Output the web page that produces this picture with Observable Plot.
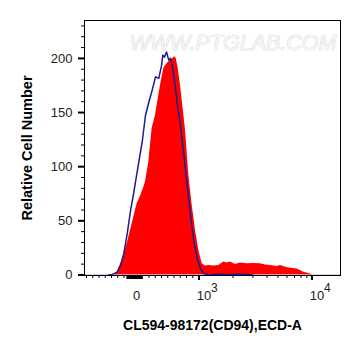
<!DOCTYPE html>
<html>
<head>
<meta charset="utf-8">
<script src="https://cdn.jsdelivr.net/npm/d3@7"></script>
<script src="https://cdn.jsdelivr.net/npm/@observablehq/plot@0.6"></script>
<style>
  html, body { margin: 0; padding: 0; background: #fff; }
  #chart { width: 361px; height: 356px; }
</style>
</head>
<body>
<div id="chart"></div>
<script>
// ---- data (fluorescence intensity in raw units, counts) ----
const redX = [-363, -309, -229, -149, -69, 11, 64, 112, 144, 197, 251, 304, 357, 384, 437, 491, 544, 581, 613, 635, 667, 704, 731, 784, 837, 891, 944, 997, 1067, 1142, 1221, 1344, 1497, 1658, 1776, 1900, 2104, 2329, 2670, 3036, 3501, 3877, 4292, 4920, 5263, 6033, 7396, 8460, 9311, 10370];
const redCount = [0, 2.6, 13.4, 28.9, 47.4, 65.9, 72.6, 80, 85.9, 104.4, 135.5, 147.5, 166, 175.3, 190.8, 195.4, 198.4, 199.9, 201.5, 199.9, 190.8, 175.3, 161.4, 133.6, 92, 64.3, 41.2, 22.7, 10.4, 8.3, 8.8, 8.3, 8.8, 11.9, 11, 11.9, 9.7, 11.1, 10.4, 10.6, 10.4, 9.3, 8.8, 7.9, 8.8, 6.6, 5.6, 2.6, 1.4, 0];
const blueX = [-448, -389, -309, -256, -203, -149, -96, -43, -16, 37, 91, 144, 197, 251, 304, 357, 400, 421, 448, 480, 501, 517, 544, 571, 597, 624, 651, 704, 757, 811, 864, 917, 971, 1031, 1103, 1214, 1500, 1800, 2200, 2700, 3000];
const blueCount = [0, 0.5, 2.6, 8.8, 19.7, 37.9, 59.2, 76.3, 85.9, 104.4, 122.8, 147.5, 159.5, 170.7, 183, 181.5, 193.3, 203, 201.2, 206, 201.5, 198.4, 200, 193.8, 184.6, 172.2, 158.6, 138.3, 110.6, 82.8, 55, 31.9, 15.3, 6, 1.4, 0, 0.8, 0.3, 0.8, 0.5, 0];

const yMajorTicks = [0, 50, 100, 150, 200];
const yMinorTicks = [10, 20, 30, 40, 60, 70, 80, 90, 110, 120, 130, 140, 160, 170, 180, 190, 210, 220, 230];
const xMajorTicks = [1000, 10000];
const xMajorExponents = ["3", "4"];
const xMinorTicks = [-800, -700, -600, -500, -400, -300, -200, 200, 300, 400, 500, 600, 700, 800, 900, 2000, 3000, 4000, 5000, 6000, 7000, 8000, 9000];
const xZeroBlockTicks = [-150, -135, -120, -105, -90, -75, -60, -45, -30, -15, 0, 15, 30, 45, 60, 75, 90];
const xZeroLabel = [0];

const xTitle = "CL594-98172(CD94),ECD-A";
const yTitle = "Relative Cell Number";
const watermark = "WWW.PTGLAB.COM";

// linear below 10^3, logarithmic above (display transform of the cytometry axis)
const DECADE = 1.808;
const disp = v => v <= 1000 ? v / 1000 : 1 + Math.log10(v / 1000) * DECADE;

const red = redX.map((x, i) => ({x: disp(x), c: redCount[i]}));
const blue = blueX.map((x, i) => ({x: disp(x), c: blueCount[i]}));

const FONT = "'Liberation Sans', Arial, sans-serif";

const plot = Plot.plot({
  width: 361,
  height: 356,
  marginLeft: 84,
  marginRight: 21,
  marginTop: 20,
  marginBottom: 81,
  style: {fontFamily: FONT, background: "#fff", overflow: "visible"},
  x: {domain: [-0.832, 3.264]},
  y: {domain: [-0.5, 235]},
  marks: [
    Plot.areaY(red, {x: "x", y: "c", fill: "#ff0000"}),
    Plot.ruleY([0], {stroke: "#c8a0d0", strokeWidth: 1}),
    Plot.line(blue, {x: "x", y: "c", stroke: "#1c1c8e", strokeWidth: 1.5}),
    Plot.frame({stroke: "#000", strokeWidth: 1}),
    // y axis
    Plot.axisY(yMinorTicks, {tickSize: 3, tickFormat: () => "", label: null, stroke: "#000"}),
    Plot.axisY(yMajorTicks, {tickSize: 6, tickPadding: 6, strokeWidth: 2, label: null, stroke: "#000",
      fontSize: 13, fill: "#222"}),
    // x axis
    Plot.axisX(xMinorTicks.map(disp), {tickSize: 3, tickFormat: () => "", label: null, stroke: "#000"}),
    Plot.axisX(xZeroBlockTicks.map(disp), {tickSize: 4, strokeWidth: 1.5, tickFormat: () => "", label: null, stroke: "#000"}),
    Plot.axisX(xMajorTicks.map(disp), {tickSize: 5, strokeWidth: 2, tickFormat: () => "", label: null, stroke: "#000"}),
    Plot.text(xZeroLabel, {x: d => disp(d), text: d => String(d), frameAnchor: "bottom", dy: 24,
      fontSize: 13, fill: "#222"}),
    Plot.text(xMajorTicks, {x: d => disp(d), text: () => "10", frameAnchor: "bottom", dy: 24, dx: 5,
      fontSize: 13, fill: "#222"}),
    Plot.text(xMajorTicks, {x: d => disp(d), text: (d, i) => xMajorExponents[i], frameAnchor: "bottom",
      dy: 16, dx: 12, textAnchor: "start", fontSize: 12, fill: "#222"}),
    // titles
    Plot.text([xTitle], {text: d => d, frameAnchor: "bottom", dy: 54, textAnchor: "middle",
      fontSize: 14, fontWeight: "bold", fill: "#000"}),
    Plot.text([yTitle], {text: d => d, frameAnchor: "left", dx: -57, rotate: -90, textAnchor: "middle",
      fontSize: 14.5, fontWeight: "bold", fill: "#000"}),
    // watermark
    Plot.text([watermark], {text: d => d, frameAnchor: "top-right", dx: -4, dy: 14.5, textAnchor: "end",
      fontSize: 21.5, fontStyle: "italic", fill: "#f6f6f6", stroke: "#c9c9c9", strokeWidth: 0.7})
  ]
});
document.getElementById("chart").appendChild(plot);
</script>
</body>
</html>
